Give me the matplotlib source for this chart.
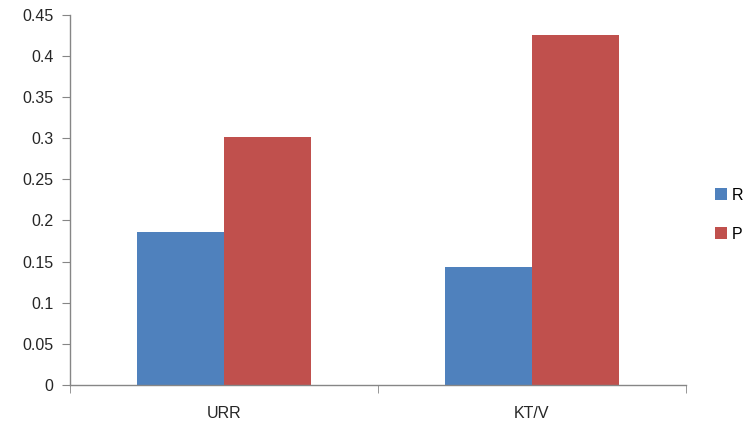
import matplotlib.pyplot as plt
import numpy as np

# Werte
categories = ['URR', 'KT/V']
r_values = [0.186, 0.143]
p_values = [0.301, 0.425]
series_names = ['R', 'P']

plt.rcParams['font.family'] = ['Liberation Sans', 'DejaVu Sans']

fig = plt.figure(figsize=(7.47, 4.25), dpi=100)
ax = fig.add_axes([0.0937, 0.0941, 0.8243, 0.8713])

x = np.arange(len(categories))
w = 0.283
ax.bar(x - w / 2, r_values, width=w, color='#4f81bd', label=series_names[0])
ax.bar(x + w / 2, p_values, width=w, color='#c0504d', label=series_names[1])

ax.set_xlim(-0.5, len(categories) - 0.5)
ax.set_ylim(0, 0.45)
ax.set_yticks(np.arange(0, 0.451, 0.05))
ax.set_yticklabels(['0', '0.05', '0.1', '0.15', '0.2', '0.25', '0.3', '0.35', '0.4', '0.45'])
ax.set_xticks(x)
ax.set_xticklabels(categories)
ax.set_xticks(np.arange(-0.5, len(categories), 1.0), minor=True)

for s in ['top', 'right']:
    ax.spines[s].set_visible(False)
for s in ['left', 'bottom']:
    ax.spines[s].set_color('#868686')
    ax.spines[s].set_linewidth(1.0)

ax.tick_params(axis='y', length=6, color='#868686', labelsize=11.5, labelcolor='#262626', pad=6)
ax.tick_params(axis='x', which='major', length=0, labelsize=11.5, labelcolor='#262626', pad=15)
ax.tick_params(axis='x', which='minor', length=6, color='#868686')

ax.legend(loc='center left', bbox_to_anchor=(1.024, 0.46), frameon=False,
          fontsize=11.5, handlelength=0.78, handleheight=0.78, handletextpad=0.25,
          labelspacing=1.5)

fig.savefig('out.png', dpi=100)
